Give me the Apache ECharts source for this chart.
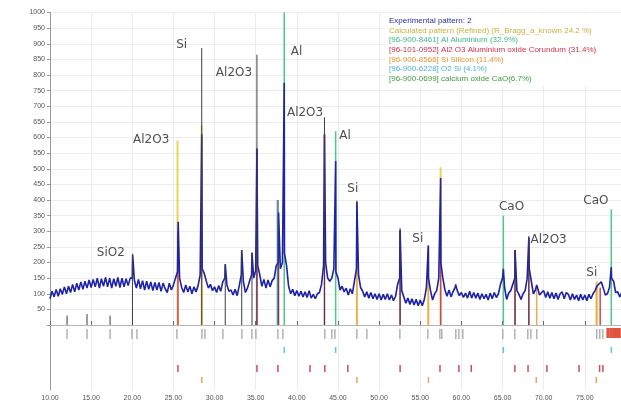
<!DOCTYPE html>
<html>
<head>
<meta charset="utf-8">
<script src="https://cdn.jsdelivr.net/npm/echarts@6/dist/echarts.min.js"></script>
<style>
  html, body { margin: 0; padding: 0; background: #fff; }
  #main { width: 621px; height: 405px; }
</style>
</head>
<body>
<div id="main"></div>
<script>
// 2theta scan: background counts every 0.25 deg starting at 10.00
var thetaStart = 10;
var thetaStep = 0.25;
var background = [
  84, 108, 90, 114,   92, 116, 98, 122,   100, 124, 104, 130,  106, 134, 112, 138,
  114, 140, 118, 144, 120, 146, 122, 150, 118, 148, 124, 152,  122, 150, 118, 148,
  124, 152, 120, 150, 122, 148, 126, 150, 150, 144, 118, 146,  116, 142, 112, 140,
  114, 138, 110, 136, 112, 136, 108, 134, 116, 104, 134, 112,  128, 150, 170, 150,
  120, 104, 128, 106, 124, 100, 122, 106, 126, 160, 180, 165,  140, 118, 130, 110,
  122, 104, 126, 108, 138, 150, 128, 108, 112, 96, 114, 94,    125, 160, 140, 104,
  118, 140, 160, 150, 175, 190, 160, 124, 146, 118, 144, 122,  142, 150, 190, 200,
  180, 200, 230, 190, 124, 100, 114, 94,  110, 92, 108, 90,    106, 88, 110, 86,
  98, 84, 100, 104,   130, 190, 200, 150, 140, 150, 180, 170,  150, 112, 124, 106,
  118, 96, 116, 100,  140, 180, 160, 120, 108, 90, 106, 86,    104, 84, 100, 82,
  100, 80, 98, 82,    100, 80, 96, 78,    92, 130, 150, 110,   90, 70, 86, 66,
  84, 64, 82, 62,     80, 62, 82, 120,    150, 110, 80, 100,   110, 150, 200, 150,
  112, 92, 112, 90,   108, 120, 110, 94,  104, 88, 102, 86,    108, 86, 104, 86,
  102, 82, 100, 84,   98, 80, 102, 84,    104, 88, 100, 130,   150, 120, 82, 102,
  110, 130, 150, 110, 98, 82, 100, 110,   150, 180, 140, 100,  112, 120, 96, 104,
  110, 88, 106, 86,   104, 84, 102, 82,   100, 106, 84, 104,   98, 80, 100, 82,
  96, 78, 98, 80,     96, 78, 98, 84,     100, 110, 125, 132,  138, 118, 96, 100,
  120, 150, 140, 104, 106, 90, 104, 95
];
// peak apexes of the measured pattern [2theta, counts]
var peaks = [
  [20.05, 225], [25.58, 330], [28.44, 610], [31.3, 195], [33.3, 240],
  [34.55, 232], [35.15, 565], [37.78, 360], [38.47, 775], [43.36, 610],
  [44.72, 525], [47.3, 395], [52.55, 305], [55.98, 255], [57.48, 470],
  [59.3, 130], [65.1, 180], [66.52, 240], [68.2, 280], [69.15, 128],
  [78.22, 185]
];

// reference sticks in the main plot [2theta, height]
var calcSticks = [[25.5, 590], [28.44, 640], [47.3, 400], [55.98, 250], [57.48, 505], [76.5, 140]];
var alSticks = [[38.47, 1000], [44.72, 620], [65.1, 350], [78.22, 370]];
var al2o3Sticks = [[25.55, 300], [35.15, 565], [37.78, 300], [43.36, 610], [52.55, 300],
  [57.48, 300], [66.52, 240], [68.2, 280], [76.87, 120]];
var siSticks = [[28.44, 600], [47.3, 390], [55.98, 240], [69.15, 120], [76.4, 135]];
var o2siSticks = [[37.62, 400]];
var peakMarkers = [[12.07, 30], [14.5, 35], [17.3, 30], [20.02, 228], [28.44, 886], [31.3, 190],
  [33.3, 240], [34.55, 230], [35.15, 865], [37.72, 400], [43.36, 665], [52.55, 310],
  [66.52, 240], [68.2, 285]];

// phase tick rows under the pattern
var row1Ticks = [12.07, 14.5, 17.3, 19.96, 20.57, 25.43, 28.47, 28.83, 31.02, 33.33, 34.54,
  35.03, 37.7, 38.31, 43.41, 44.26, 44.63, 47.3, 48.52, 52.53, 55.93, 57.39, 57.63,
  59.33, 59.7, 60.18, 65.04, 66.5, 68.08, 68.45, 69.17, 76.46, 76.83, 77.2];
var row1Red = [77.8, 78.15, 78.5, 78.85, 79.2];
var row2Ticks = [38.47, 44.72, 65.1, 78.23];
var row3Ticks = [25.55, 35.15, 37.7, 41.6, 43.4, 46.2, 52.55, 57.4, 59.7, 61.2, 66.5,
  68.1, 70.4, 74.3, 76.8, 77.2];
var row4Ticks = [28.44, 47.3, 56.0, 69.1, 76.4];

// peak annotations [text, 2theta, counts]
var annotations = [
  ['SiO2', 17.4, 230], ['Al2O3', 22.3, 591], ['Si', 26.0, 895], ['Al2O3', 32.36, 808],
  ['Al', 39.96, 874], ['Al2O3', 41.0, 678], ['Al', 45.85, 604], ['Si', 46.8, 435],
  ['Si', 54.7, 275], ['CaO', 66.1, 377], ['Al2O3', 70.6, 272], ['CaO', 76.35, 396],
  ['Si', 75.85, 166]
];

var legendTexts = [
  'Experimental pattern: 2',
  'Calculated pattern (Refined) (R_Bragg_a_known 24.2 %)',
  '[96-900-8461] Al Aluminium (32.9%)',
  '[96-101-0952] Al2 O3 Aluminium oxide Corundum (31.4%)',
  '[96-900-8566] Si Silicon (11.4%)',
  '[96-900-6228] O2 Si (4.1%)',
  '[96-900-0699] calcium oxide CaO(6.7%)'
];
var legendColors = ['#2b2f9e', '#c9b23a', '#3dbb82', '#d3304a', '#e8922e', '#4fb0dc', '#3f9d3f'];

var experimental = background.map(function (v, i) {
  return [thetaStart + thetaStep * i, v];
}).concat(peaks).sort(function (a, b) { return a[0] - b[0]; });

function stickRender(width) {
  return function (params, api) {
    var a = api.coord([api.value(0), api.value(1)]);
    var b = api.coord([api.value(0), api.value(2)]);
    return {
      type: 'line',
      shape: { x1: a[0], y1: a[1], x2: b[0], y2: b[1] },
      style: { stroke: api.visual('color'), lineWidth: width }
    };
  };
}
function stickSeries(list, color, width) {
  return {
    type: 'custom', xAxisIndex: 0, yAxisIndex: 0, color: color, silent: true,
    renderItem: stickRender(width),
    encode: { x: 0, y: [1, 2] },
    data: list.map(function (d) { return [d[0], 0, d[1]]; })
  };
}
function rowSeries(list, y0, y1, color, width) {
  return {
    type: 'custom', xAxisIndex: 1, yAxisIndex: 1, color: color, silent: true,
    renderItem: stickRender(width),
    encode: { x: 0, y: [1, 2] },
    data: list.map(function (t) { return [t, y0, y1]; })
  };
}

var chart = echarts.init(document.getElementById('main'));
var gridLine = { show: true, lineStyle: { color: '#ececec', width: 1 } };

var graphics = [{
  type: 'rect', left: 385, top: 14, z: 50,
  shape: { width: 236, height: 72 }, style: { fill: '#fff' }
}];
legendTexts.forEach(function (t, i) {
  graphics.push({
    type: 'text', left: 389, top: 17 + i * 9.6, z: 51,
    style: { text: t, fill: legendColors[i], font: '8px "Liberation Sans", Arial, sans-serif' }
  });
});

chart.setOption({
  animation: false,
  grid: [
    { left: 50, right: 0, top: 12.5, height: 312.5 },
    { left: 50, right: 0, top: 325, height: 65 }
  ],
  xAxis: [
    {
      type: 'value', gridIndex: 0, min: 10, max: 79.4, interval: 5,
      axisLine: { show: true, onZero: false, lineStyle: { color: '#7b3f32', width: 1.2 } },
      axisTick: { show: false }, axisLabel: { show: false },
      splitLine: gridLine
    },
    {
      type: 'value', gridIndex: 1, min: 10, max: 79.4, interval: 5,
      axisLine: { show: true, lineStyle: { color: '#666' } },
      axisTick: { show: true, inside: true, length: 4, lineStyle: { color: '#666' } },
      axisLabel: {
        show: true, margin: 5, fontSize: 7, color: '#555', showMaxLabel: false,
        fontFamily: '"Liberation Sans", Arial, sans-serif',
        formatter: function (v) { return v.toFixed(2); }
      },
      splitLine: gridLine
    },
    {
      type: 'value', gridIndex: 0, position: 'top', min: 10, max: 79.4,
      axisLine: { show: true, lineStyle: { color: '#b5b5b5' } },
      axisTick: { show: false }, axisLabel: { show: false }, splitLine: { show: false }
    }
  ],
  yAxis: [
    {
      type: 'value', gridIndex: 0, min: 0, max: 1000, interval: 50,
      axisLine: { show: true, lineStyle: { color: '#999' } },
      axisTick: { show: true, length: 3, lineStyle: { color: '#999' } },
      axisLabel: {
        fontSize: 7, color: '#555', margin: 5,
        fontFamily: '"Liberation Sans", Arial, sans-serif',
        formatter: function (v) { return v === 0 ? '' : v; }
      },
      splitLine: gridLine
    },
    {
      type: 'value', gridIndex: 1, min: 0, max: 65, inverse: true,
      axisLine: { show: true, lineStyle: { color: '#999' } },
      axisTick: { show: false }, axisLabel: { show: false }, splitLine: { show: false }
    }
  ],
  graphic: graphics,
  series: [
    stickSeries(calcSticks, '#e9d45c', 2),
    stickSeries(siSticks, '#f0a94a', 1.5),
    stickSeries(al2o3Sticks, '#c8475a', 1.5),
    stickSeries(o2siSticks, '#79c4e6', 1.5),
    stickSeries(alSticks, '#49c98c', 1.5),
    {
      type: 'line', xAxisIndex: 0, yAxisIndex: 0, data: experimental,
      showSymbol: false, symbol: 'none',
      lineStyle: { color: '#1e22a4', width: 1.6 }, z: 3
    },
    Object.assign(stickSeries(peakMarkers, '#3d3d48', 1), { z: 4 }),
    {
      type: 'scatter', xAxisIndex: 0, yAxisIndex: 0, symbolSize: 0, z: 5,
      data: annotations.map(function (a) { return { name: a[0], value: [a[1], a[2]] }; }),
      label: {
        show: true, position: 'inside', formatter: '{b}', color: '#222',
        fontSize: 12, fontFamily: '"DejaVu Sans", sans-serif'
      }
    },
    rowSeries(row1Ticks, 4, 14, '#8c8c8c', 1),
    rowSeries(row1Red, 3, 13, '#e0553f', 3),
    rowSeries(row2Ticks, 22, 28, '#5cc8d6', 1.5),
    rowSeries(row3Ticks, 40, 47, '#c4505c', 1.5),
    rowSeries(row4Ticks, 52, 58, '#d9ab62', 1.5)
  ]
});

window.addEventListener('resize', function () {
  chart.resize();
});
</script>
</body>
</html>
